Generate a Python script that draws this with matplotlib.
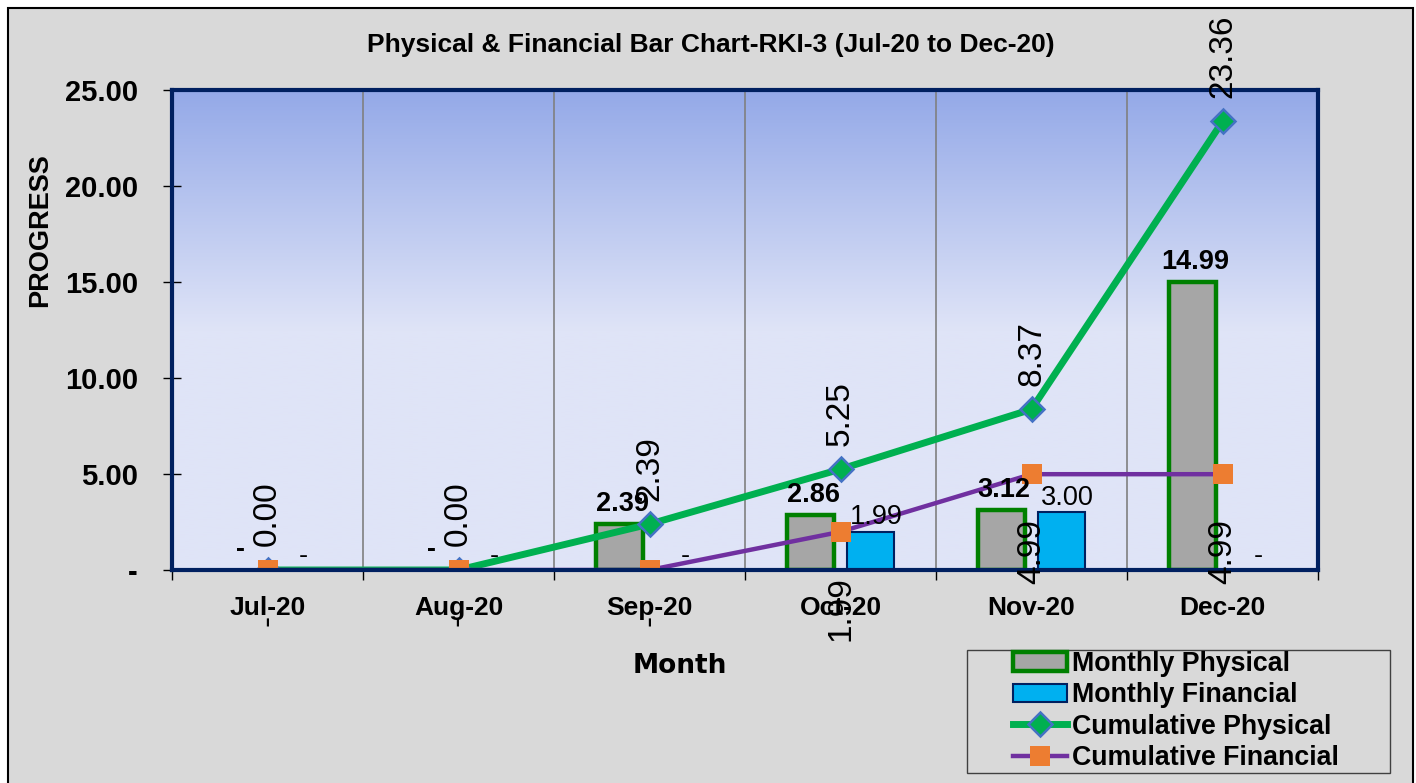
import numpy as np
import matplotlib
matplotlib.use("Agg")
import matplotlib.pyplot as plt
from matplotlib.patches import Rectangle

plt.rcParams['font.family'] = ['Liberation Sans', 'DejaVu Sans']

# Data
meses = ["Jul-20", "Aug-20", "Sep-20", "Oct-20", "Nov-20", "Dec-20"]
fisico_mensal = [0.00, 0.00, 2.39, 2.86, 3.12, 14.99]
financeiro_mensal = [0.00, 0.00, 0.00, 1.99, 3.00, 0.00]
fisico_acum = [0.00, 0.00, 2.39, 5.25, 8.37, 23.36]
financeiro_acum = [0.00, 0.00, 0.00, 1.99, 4.99, 4.99]
y_ticks = [0, 5, 10, 15, 20, 25]

W, H = 1416, 783


def fx(px):
    return px / W


def fy(py):
    return 1 - py / H


def fmt_traco(v):
    # Excel accounting style: zero shown as "-"
    return "-" if v == 0 else f"{v:.2f}"


fig = plt.figure(figsize=(W / 100, H / 100), dpi=100, facecolor='white')

# moldura externa cinza
fig.patches.append(Rectangle((fx(8), -0.02), fx(1413) - fx(8), fy(8) + 0.02,
                             transform=fig.transFigure, facecolor='#d9d9d9',
                             edgecolor='black', lw=1.5, zorder=-1))

ax = fig.add_axes([fx(172), fy(570), fx(1318) - fx(172), fy(90) - fy(570)])

# fundo em gradiente (azul em cima, lavanda embaixo)
topo = np.array([148, 169, 232]) / 255
base = np.array([223, 228, 247]) / 255
f = np.linspace(0, 1, 256)
t = np.clip((f - 0.5) / 0.5, 0, 1)[:, None]
grad = (base * (1 - t) + topo * t)[:, None, :]
ax.imshow(grad, extent=(-0.5, 5.5, 0, 25), aspect='auto', origin='lower', zorder=0)

x = np.arange(len(meses))
larg = 0.25
desloc = 0.157

fm = np.array(fisico_mensal, dtype=float)
fin = np.array(financeiro_mensal, dtype=float)
b1 = ax.bar(x - desloc, np.where(fm > 0, fm, np.nan), width=larg, color='#a6a6a6',
            edgecolor='#008000', linewidth=3.2, label='Monthly Physical', zorder=2)
b2 = ax.bar(x + desloc, np.where(fin > 0, fin, np.nan), width=larg, color='#00b0f0',
            edgecolor='#002060', linewidth=1.5, label='Monthly Financial', zorder=2)

l1, = ax.plot(x, fisico_acum, color='#00b050', lw=5, marker='D', ms=12,
              markerfacecolor='#00b050', markeredgecolor='#4472c4', mew=1.8,
              label='Cumulative Physical', zorder=3)
l2, = ax.plot(x, financeiro_acum, color='#7030a0', lw=3.2, marker='s', ms=14.5,
              markerfacecolor='#ed7d31', markeredgecolor='#ed7d31', mew=0,
              label='Cumulative Financial', zorder=4)

# rótulos
for i in range(len(meses)):
    ax.annotate(fmt_traco(fisico_mensal[i]), (x[i] - desloc, fisico_mensal[i]),
                xytext=(2, 5), textcoords='offset points', ha='center', va='bottom',
                fontsize=19.5, fontweight='bold', zorder=6)
    ax.annotate(fmt_traco(financeiro_mensal[i]), (x[i] + desloc, financeiro_mensal[i]),
                xytext=(4, 1), textcoords='offset points', ha='center', va='bottom',
                fontsize=19.5, zorder=6)
    ax.annotate(f"{fisico_acum[i]:.2f}", (x[i], fisico_acum[i]),
                xytext=(0, 17), textcoords='offset points', ha='center', va='bottom',
                rotation=90, fontsize=24, zorder=6, annotation_clip=False)
    ax.annotate(fmt_traco(financeiro_acum[i]), (x[i], financeiro_acum[i]),
                xytext=(0, -32), textcoords='offset points', ha='center', va='top',
                rotation=90, fontsize=24, zorder=6, annotation_clip=False)

ax.set_xlim(-0.5, 5.5)
ax.set_ylim(0, 25)

ax.set_yticks(y_ticks)
ax.set_yticklabels([fmt_traco(v) for v in y_ticks], fontsize=21, fontweight='bold')
ax.tick_params(axis='y', direction='inout', length=13, width=1, pad=18, colors='black')

ax.set_xticks(np.arange(-0.5, 6, 1))
ax.set_xticklabels([])
ax.set_xticks(x, minor=True)
ax.set_xticklabels(meses, minor=True, fontsize=19, fontweight='bold')
ax.tick_params(axis='x', which='major', direction='out', length=7, width=1)
ax.tick_params(axis='x', which='minor', length=0, pad=19)

ax.grid(axis='x', which='major', color='#808080', lw=1.2, zorder=1)
ax.set_axisbelow(False)
for s in ax.spines.values():
    s.set_color('#002060')
    s.set_linewidth(3)
    s.set_zorder(5)

fig.text(fx(711), fy(45), "Physical & Financial Bar Chart-RKI-3 (Jul-20 to Dec-20)",
         ha='center', va='center', fontsize=19, fontweight='bold')
fig.text(fx(40), fy(230), "PROGRESS", rotation=90, ha='center', va='center',
         fontsize=19.5, fontweight='bold')
fig.text(fx(680), fy(666), "Month", ha='center', va='center', fontsize=19,
         fontweight='bold', family='DejaVu Sans')

# legenda
fig.patches.append(Rectangle((fx(967), fy(773)), fx(1390) - fx(967), fy(650) - fy(773),
                             transform=fig.transFigure, fill=False,
                             edgecolor='#404040', lw=1))
fig.legend(handles=[b1, b2, l1, l2], loc='upper left',
           bbox_to_anchor=(fx(1013), fy(651)), frameon=False, borderpad=0,
           borderaxespad=0, handlelength=2.0, handletextpad=0.2, labelspacing=0.2,
           prop={'size': 19.3, 'weight': 'bold'})

fig.savefig("out.png", dpi=100)
